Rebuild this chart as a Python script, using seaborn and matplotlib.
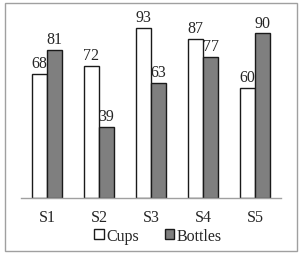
import matplotlib
matplotlib.use("Agg")
import matplotlib.pyplot as plt
import seaborn as sns
import pandas as pd
from matplotlib.patches import Rectangle

categories = ["S1", "S2", "S3", "S4", "S5"]
cups = [68, 72, 93, 87, 60]
bottles = [81, 39, 63, 77, 90]
series_names = ["Cups", "Bottles"]

df = pd.DataFrame({
    "cat": categories * 2,
    "val": cups + bottles,
    "series": [series_names[0]] * len(categories) + [series_names[1]] * len(categories),
})

sns.set_style("white")
plt.rcParams["font.family"] = ["Liberation Serif", "DejaVu Serif"]

fig = plt.figure(figsize=(3.0, 2.55), dpi=100)
ax = fig.add_axes([21/300, 1-199/255, 260/300, 183/255])
sns.barplot(data=df, x="cat", y="val", hue="series", ax=ax,
            palette=["#ffffff", "#7f7f7f"], edgecolor="#1a1a1a", linewidth=1.0,
            width=0.58, saturation=1, errorbar=None)
ax.set_ylim(0, 100)
ax.set_xlim(-0.5, len(categories) - 0.5)
ax.set_xlabel("")
ax.set_ylabel("")
ax.set_yticks([])
for s in ["top", "right", "left"]:
    ax.spines[s].set_visible(False)
ax.spines["bottom"].set_color("#a0a0a0")
ax.spines["bottom"].set_linewidth(1.0)
ax.set_xticks(range(len(categories)))
ax.set_xticklabels(categories, fontsize=11.5)
ax.tick_params(axis="x", which="major", length=0, pad=8)
ax.set_xticks([i - 0.5 for i in range(len(categories) + 1)], minor=True)
ax.tick_params(axis="x", which="minor", length=4, color="#a0a0a0", width=1.0)

for cont in ax.containers:
    ax.bar_label(cont, fontsize=11.5, padding=2)

ax.get_legend().remove()
handles = [Rectangle((0, 0), 1, 1, facecolor=c, edgecolor="#1a1a1a", linewidth=1.0)
           for c in ["#ffffff", "#7f7f7f"]]
fig.legend(handles, series_names, loc="center", bbox_to_anchor=(158/300, 1-237/255), ncol=2,
           frameon=False, fontsize=11.5, handlelength=0.6, handleheight=0.6,
           handletextpad=0.15, columnspacing=1.6, borderpad=0)

fig.patches.append(Rectangle((5/300, 1-252/255), 292/300, 248/255, transform=fig.transFigure,
                             fill=False, edgecolor="#a0a0a0", linewidth=1.0))
fig.savefig("out.png", dpi=100)
